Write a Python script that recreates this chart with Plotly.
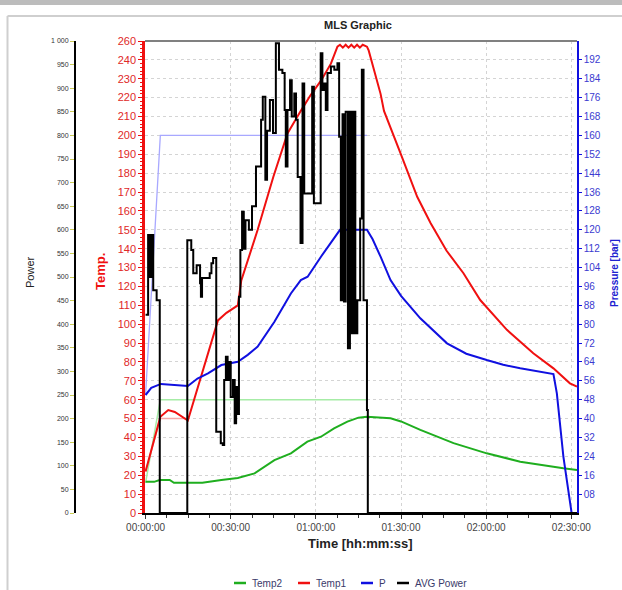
import plotly.graph_objects as go

W, H = 622, 590

# ---------------- data (time in minutes) ----------------
t_temp1 = [0, 5.2, 8, 10.3, 14.9, 25.5, 28.5, 32.5, 33.7, 39.5, 45, 50, 54.7, 58, 61.8, 65.3, 67.6,
           68.5, 69.5, 70.5, 71.5, 72.5, 73.5, 74.5, 75.5, 76.5, 78.0, 78.6, 82.8, 84, 89.8, 95.7,
           100.4, 106, 112, 117.9, 127.3, 136.6, 143.7, 149.5, 152]
temp1 = [22, 51, 54.5, 53.5, 49, 102, 106, 110, 123, 150, 178, 201, 213, 221, 229, 238, 247,
         248, 246.5, 248, 246.5, 248, 246.5, 248, 246.5, 248, 247, 245, 222, 213, 190.6, 167.5,
         153.6, 139, 127, 112.8, 97, 84.6, 76.6, 68.7, 67]

t_temp2 = [0, 3, 5, 8.5, 10, 20, 26.7, 32.5, 38.4, 45.4, 51.2, 57, 61.8, 66.4, 71.1, 75, 78, 86.3,
           90, 96.8, 108.5, 120.2, 132, 140, 147.2, 152]
temp2 = [16.5, 16.5, 17.5, 17.5, 16, 16, 17.5, 18.5, 21, 28, 31.6, 37.8, 40.4, 44.8, 48.4, 50.5, 51,
         50.2, 48.5, 44, 37, 31.6, 27.2, 25.2, 23.7, 22.8]

t_p = [0, 2, 5.4, 10.3, 14.9, 18.3, 22, 26.7, 32.5, 36, 39.5, 45.4, 47.7, 51.2, 54.7, 57.1, 61.8,
       65, 68.5, 78, 80, 82.8, 86.3, 90, 96.8, 106.2, 113, 120.2, 126, 132, 138, 143.7, 144.9,
       147.2, 150.1]
pressure = [50, 53, 54.7, 54.2, 53.8, 57, 59.2, 62.7, 64.1, 67, 70.5, 81, 86, 93, 98.7, 100.1,
            108.6, 114, 120, 120, 116, 108.6, 98.7, 92, 82.5, 71.9, 67.5, 64.8, 62.8, 61.3, 60,
            58.9, 50.7, 23.9, 0]

t_power = [0, 0.9, 1.6, 2.0, 2.7, 3.9, 5.0, 14.7, 16.1, 16.8, 18.0, 19.2, 19.5, 19.9, 22.6, 23.2,
           23.8, 24.9, 26.5, 27.2, 27.7, 28.3, 28.9, 29.4, 30.0, 30.8, 31.4, 31.9, 32.5, 32.9,
           33.4, 34.0, 34.6, 35.2, 36.4, 37.5, 38.9, 40.7, 41.3, 42.2, 42.8, 43.8, 44.9, 45.9,
           47.0, 48.2, 49.0, 49.4, 50.0, 50.9, 51.5, 52.4, 53.0, 53.6, 54.6, 55.3, 55.9, 58.7,
           59.3, 61.7, 62.3, 62.9, 63.5, 64.1, 65.3, 66.5, 67.6, 68.2, 68.8, 69.4, 69.9, 70.5,
           71.3, 72.0, 72.6, 73.3, 73.9, 74.6, 75.6, 76.2, 76.8, 78.0, 78.3, 152]
avg_power = [420, 589, 500, 589, 472, 451, 0, 578, 557, 508, 525, 487, 458, 498, 508, 529,
             540, 172, 148, 144, 282, 331, 282, 320, 246, 282, 190, 267, 210, 458,
             557, 638, 560, 620, 600, 650, 734, 833, 882, 706, 810, 875, 805, 995,
             939, 932, 854, 734, 854, 917, 840, 889, 833, 712, 572, 910, 677, 903,
             656, 974, 896, 910, 854, 932, 946, 939, 953, 797, 451, 845, 448, 850,
             349, 850, 381, 850, 381, 451, 624, 939, 451, 218, 0, 0]

# set-point curves (not in legend)
t_sp = [0, 5.2, 78]
sp_temp2 = [16, 60, 60]
sp_press = [50, 160, 160]
t_sp1 = [0, 5.2, 15]
sp_temp1 = [22, 50, 50]

x_tickvals = [0, 30, 60, 90, 120, 150]
x_ticktext = ["00:00:00", "00:30:00", "01:00:00", "01:30:00", "02:00:00", "02:30:00"]
temp_ticks = list(range(0, 251, 10))
temp_text = [str(v) for v in temp_ticks[:-1]] + ["260"]
power_ticks = list(range(0, 1001, 50))
power_text = [str(v) for v in power_ticks[:-1]] + ["1 000"]
press_ticks = list(range(8, 193, 8))
press_text = ["%02d" % v for v in press_ticks]

series_names = ["Temp2", "Temp1", "P", "AVG Power"]

# ---------------- geometry ----------------
px = lambda x: x / W
py = lambda y: 1 - y / H
PL, PR, PT, PB = 145, 577, 41, 513
FONT = "Liberation Sans, Arial, sans-serif"
RED, GREEN, BLUE, BLACK = "#f01010", "#1fae1f", "#1010e0", "#000000"
series_colors = [GREEN, RED, BLUE, BLACK]

fig = go.Figure()
fig.add_trace(go.Scatter(x=t_sp, y=sp_temp2, mode="lines", line=dict(color="#a6eca6", width=1.5),
                         showlegend=False, hoverinfo="skip", yaxis="y"))
fig.add_trace(go.Scatter(x=t_sp1, y=sp_temp1, mode="lines", line=dict(color="#f5a8a8", width=1.5),
                         showlegend=False, hoverinfo="skip", yaxis="y"))
fig.add_trace(go.Scatter(x=t_temp2, y=temp2, name=series_names[0], mode="lines",
                         line=dict(color=GREEN, width=2), yaxis="y", showlegend=False))
fig.add_trace(go.Scatter(x=t_temp1, y=temp1, name=series_names[1], mode="lines",
                         line=dict(color=RED, width=2), yaxis="y", showlegend=False))
fig.add_trace(go.Scatter(x=t_sp, y=sp_press, mode="lines", line=dict(color="#a8a8ff", width=1.3),
                         showlegend=False, hoverinfo="skip", yaxis="y2"))
fig.add_trace(go.Scatter(x=t_p, y=pressure, name=series_names[2], mode="lines",
                         line=dict(color=BLUE, width=2), yaxis="y2", showlegend=False))
fig.add_trace(go.Scatter(x=t_power, y=avg_power, name=series_names[3], mode="lines",
                         line=dict(color="black", width=2, shape="hv"), yaxis="y3", showlegend=False))

grid = dict(showgrid=True, gridcolor="#d4d4d4", griddash="dot", gridwidth=1)

fig.update_layout(
    width=W, height=H, autosize=False,
    margin=dict(l=0, r=0, t=0, b=0, pad=0, autoexpand=False),
    paper_bgcolor="white", plot_bgcolor="white",
    font=dict(family=FONT, color="#333"),
    xaxis=dict(domain=[px(PL), px(PR)], range=[-0.2, 152], tickvals=x_tickvals, ticktext=x_ticktext,
               ticks="outside", ticklen=4, tickcolor="#333", tickfont=dict(size=10, color="#444"),
               minor=dict(dtick=7.5, tick0=0, ticks="outside", ticklen=3, tickcolor="#333", showgrid=False),
               showline=True, linecolor="black", linewidth=2, zeroline=False, automargin=False, **grid),
    yaxis=dict(domain=[py(PB), py(PT)], range=[0, 250], tickvals=temp_ticks, ticktext=temp_text,
               tickfont=dict(size=11, color="#e02828"), ticks="outside", ticklen=4, tickcolor=RED,
               minor=dict(dtick=2, ticks="outside", ticklen=2, tickcolor=RED, showgrid=False),
               showline=True, linecolor=RED, linewidth=2.5, zeroline=False, automargin=False, **grid),
    yaxis2=dict(overlaying="y", side="right", anchor="x", range=[0, 200], tickvals=press_ticks,
                ticktext=press_text, tickfont=dict(size=10, color="#3a3ad0"), ticks="outside",
                ticklen=3, tickcolor=BLUE, showline=True, linecolor=BLUE, linewidth=1.5,
                showgrid=False, zeroline=False, automargin=False),
    yaxis3=dict(overlaying="y", side="left", anchor="free", position=px(75), range=[0, 1000],
                tickvals=power_ticks, ticktext=power_text, tickfont=dict(size=7, color="#333"),
                ticks="outside", ticklen=4, tickcolor="#cccc55", showline=True, linecolor="black",
                linewidth=2, showgrid=False, zeroline=False, automargin=False),
    showlegend=False,
)

shapes = [
    dict(type="rect", xref="paper", yref="paper", x0=0, x1=1, y0=py(5), y1=1,
         fillcolor="#bcbcbc", line=dict(width=0), layer="below"),
    dict(type="line", xref="paper", yref="paper", x0=px(7.5), x1=1.01, y0=py(16), y1=py(16),
         line=dict(color="#cfcfcf", width=2)),
    dict(type="line", xref="paper", yref="paper", x0=px(7.5), x1=px(7.5), y0=-0.01, y1=py(16),
         line=dict(color="#cfcfcf", width=2)),
    dict(type="line", xref="paper", yref="paper", x0=px(PL), x1=px(PR), y0=py(PT), y1=py(PT),
         line=dict(color="#808080", width=2)),
]

ann = [
    dict(text="<b>MLS Graphic</b>", x=px(358), y=py(25), size=11, color="#222", angle=0, xa="center"),
    dict(text="<b>Time [hh:mm:ss]</b>", x=px(360), y=py(543), size=13, color="#222", angle=0, xa="center"),
    dict(text="Power", x=px(30), y=py(272), size=11, color="#222", angle=-90, xa="center"),
    dict(text="<b>Temp.</b>", x=px(100), y=py(272), size=13, color=RED, angle=-90, xa="center"),
    dict(text="<b>Pressure [bar]</b>", x=px(615), y=py(273), size=10, color="#2020d0", angle=-90, xa="center"),
]

# custom compact legend (short line + label), placed as in the reference
legend_x = [234, 298, 361, 397]
LEG_Y = 583
for name, col, lx in zip(series_names, series_colors, legend_x):
    shapes.append(dict(type="line", xref="paper", yref="paper", x0=px(lx), x1=px(lx + 12),
                       y0=py(LEG_Y), y1=py(LEG_Y), line=dict(color=col, width=2.5)))
    ann.append(dict(text=name, x=px(lx + 16), y=py(LEG_Y), size=10, color="#3a3a6a", angle=0, xa="left"))

fig.update_layout(shapes=shapes)
fig.update_layout(annotations=[
    dict(text=a["text"], x=a["x"], y=a["y"], xref="paper", yref="paper", showarrow=False,
         xanchor=a["xa"], yanchor="middle", textangle=a["angle"],
         font=dict(size=a["size"], color=a["color"], family=FONT)) for a in ann
])

fig.write_html("out.html", config={"displayModeBar": False},
               post_script="document.body.style.margin='0';document.body.style.overflow='hidden';")
